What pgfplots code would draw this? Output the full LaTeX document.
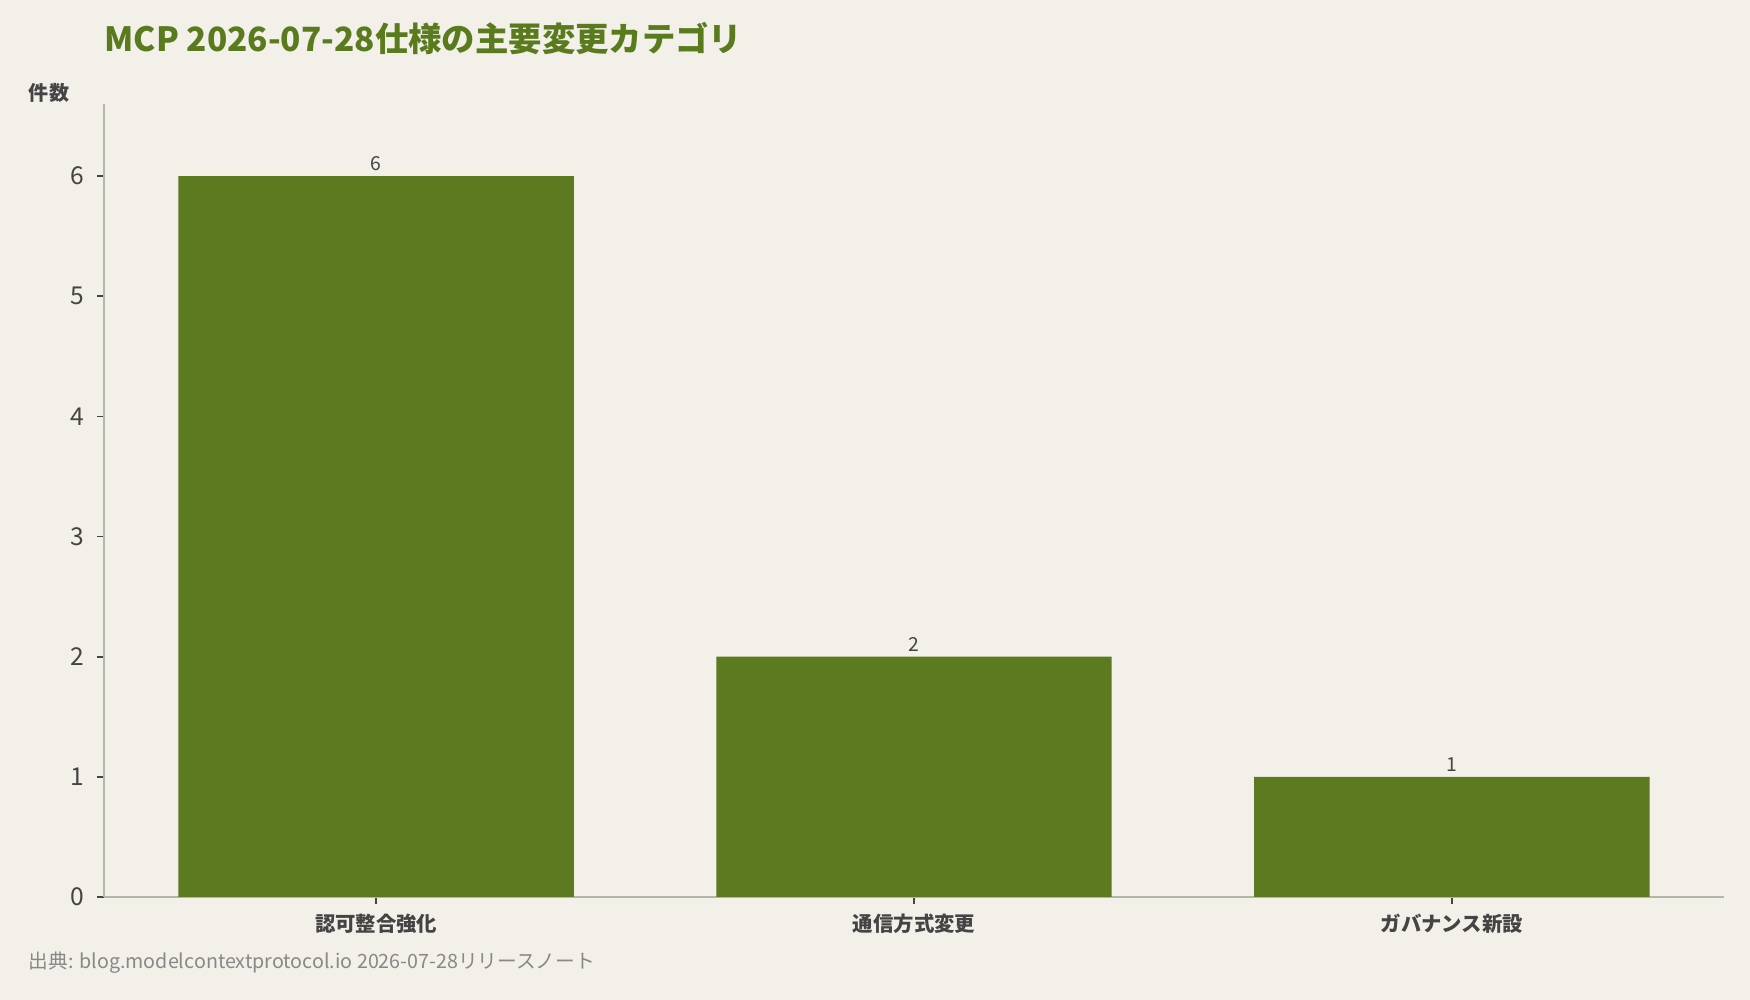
\documentclass[border=0pt]{standalone}
\usepackage{pgfplots}
\pgfplotsset{compat=1.18}
\usepackage{fontspec}
\setmainfont{Noto Sans CJK JP}

\definecolor{bgc}{HTML}{F3F0E9}
\definecolor{barc}{HTML}{5C7A1F}
\definecolor{titlec}{HTML}{5A7A1E}
\definecolor{txt}{HTML}{444444}
\definecolor{footc}{HTML}{888888}
\definecolor{axisc}{HTML}{B2B6A4}

\begin{document}
\begin{tikzpicture}
\fill[bgc] (0,0) rectangle (175mm,100mm);
\useasboundingbox (0,0) rectangle (175mm,100mm);
\begin{axis}[
    at={(10.4mm,10.3mm)}, anchor=south west,
    scale only axis, width=162mm, height=79.3mm,
    xmin=-0.506, xmax=2.506, ymin=0, ymax=6.6,
    ybar, bar width=0.735, bar shift=0pt,
    xtick={0,1,2},
    xticklabels={認可整合強化,通信方式変更,ガバナンス新設},
    ytick={0,1,2,3,4,5,6},
    axis x line*=bottom, axis y line*=left,
    axis line style={-, draw=axisc, line width=0.6pt},
    tick align=outside, major tick length=0.7mm,
    tick style={draw=txt, line width=0.5pt},
    x tick label style={font=\bfseries\fontsize{5.8}{7}\selectfont, text=txt, yshift=0.2mm},
    y tick label style={font=\fontsize{7}{8}\selectfont, text=txt},
    /pgf/number format/assume math mode=true,
    nodes near coords,
    every node near coord/.append style={font=\fontsize{5.5}{6}\selectfont, text=txt, inner sep=1.2pt},
    clip=false,
]
\addplot[fill=barc, draw=none] coordinates {(0,6) (1,2) (2,1)};
\end{axis}
\node[anchor=west, inner sep=0, font=\bfseries\fontsize{9.5}{11}\selectfont, text=titlec] at (10.4mm,96.1mm) {MCP 2026-07-28仕様の主要変更カテゴリ};
\node[inner sep=0, font=\bfseries\fontsize{5.7}{7}\selectfont, text=txt] at (4.9mm,90.7mm) {件数};
\node[anchor=west, inner sep=0, font=\fontsize{5.6}{6.5}\selectfont, text=footc] at (2.8mm,3.7mm) {出典: blog.modelcontextprotocol.io 2026-07-28リリースノート};
\end{tikzpicture}
\end{document}
